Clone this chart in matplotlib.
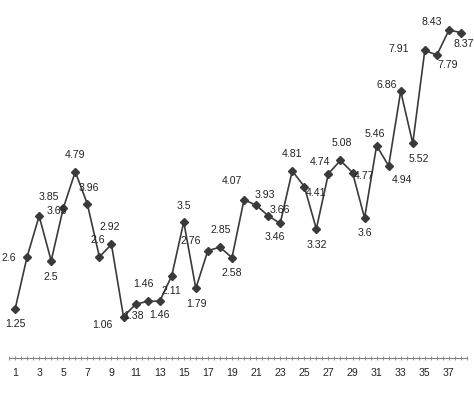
import matplotlib.pyplot as plt
import numpy as np

plt.rcParams['font.family'] = ['Liberation Sans', 'DejaVu Sans']

values = [1.25, 2.6, 3.65, 2.5, 3.85, 4.79, 3.96, 2.6, 2.92, 1.06,
          1.38, 1.46, 1.46, 2.11, 3.5, 1.79, 2.76, 2.85, 2.58, 4.07,
          3.93, 3.66, 3.46, 4.81, 4.41, 3.32, 4.74, 5.08, 4.77, 3.6,
          5.46, 4.94, 6.86, 5.52, 7.91, 7.79, 8.43, 8.37]
x = np.arange(1, len(values) + 1)
tick_labels = [str(i) for i in range(1, 38, 2)]

# label offsets in pixels (dx, dy with dy downward)
offsets = [(0, 15), (-18, 1), (18, -5), (0, 16), (-14, -11), (0, -17), (1, -16),
           (-2, -17), (-2, -17), (-21, 8), (-2, 12), (-4, -17), (0, 14), (0, 15),
           (0, -16), (1, 16), (-17, -10), (1, -17), (0, 15), (-12, -19), (9, -10),
           (12, -6), (-5, 14), (0, -17), (12, 6), (0, 16), (-8, -12), (1, -17),
           (12, 3), (0, 15), (-2, -12), (13, 14), (-14, -6), (6, 16), (-26, -1),
           (11, 10), (-17, -8), (3, 11)]

fig = plt.figure(figsize=(4.74, 3.93), dpi=100)
ax = fig.add_axes([9 / 474, (393 - 358) / 393, 458 / 474, 350 / 393])

ax.plot(x, values, color='#3a3a3a', lw=1.2, marker='D', ms=4.5,
        mfc='#3a3a3a', mec='#3a3a3a')

for xi, v, (dx, dy) in zip(x, values, offsets):
    ax.annotate(f'{v:g}', (xi, v), xytext=(dx, -dy), textcoords='offset pixels',
                ha='center', va='center', fontsize=7.6, color='#222222')

ax.set_xlim(0.5, 38.5)
ax.set_ylim(0, 9)
for s in ['top', 'right', 'left']:
    ax.spines[s].set_visible(False)
ax.spines['bottom'].set_color('#808080')
ax.spines['bottom'].set_linewidth(0.8)
ax.set_yticks([])
ax.set_xticks(range(1, 38, 2))
ax.set_xticklabels(tick_labels)
ax.set_xticks(np.arange(0.5, 38.6, 0.5), minor=True)
ax.tick_params(axis='x', which='both', direction='inout', length=3,
               color='#808080', width=0.6)
ax.tick_params(axis='x', which='major', labelsize=7.6, pad=6, labelcolor='#222222')

fig.savefig('out.png', dpi=100)
